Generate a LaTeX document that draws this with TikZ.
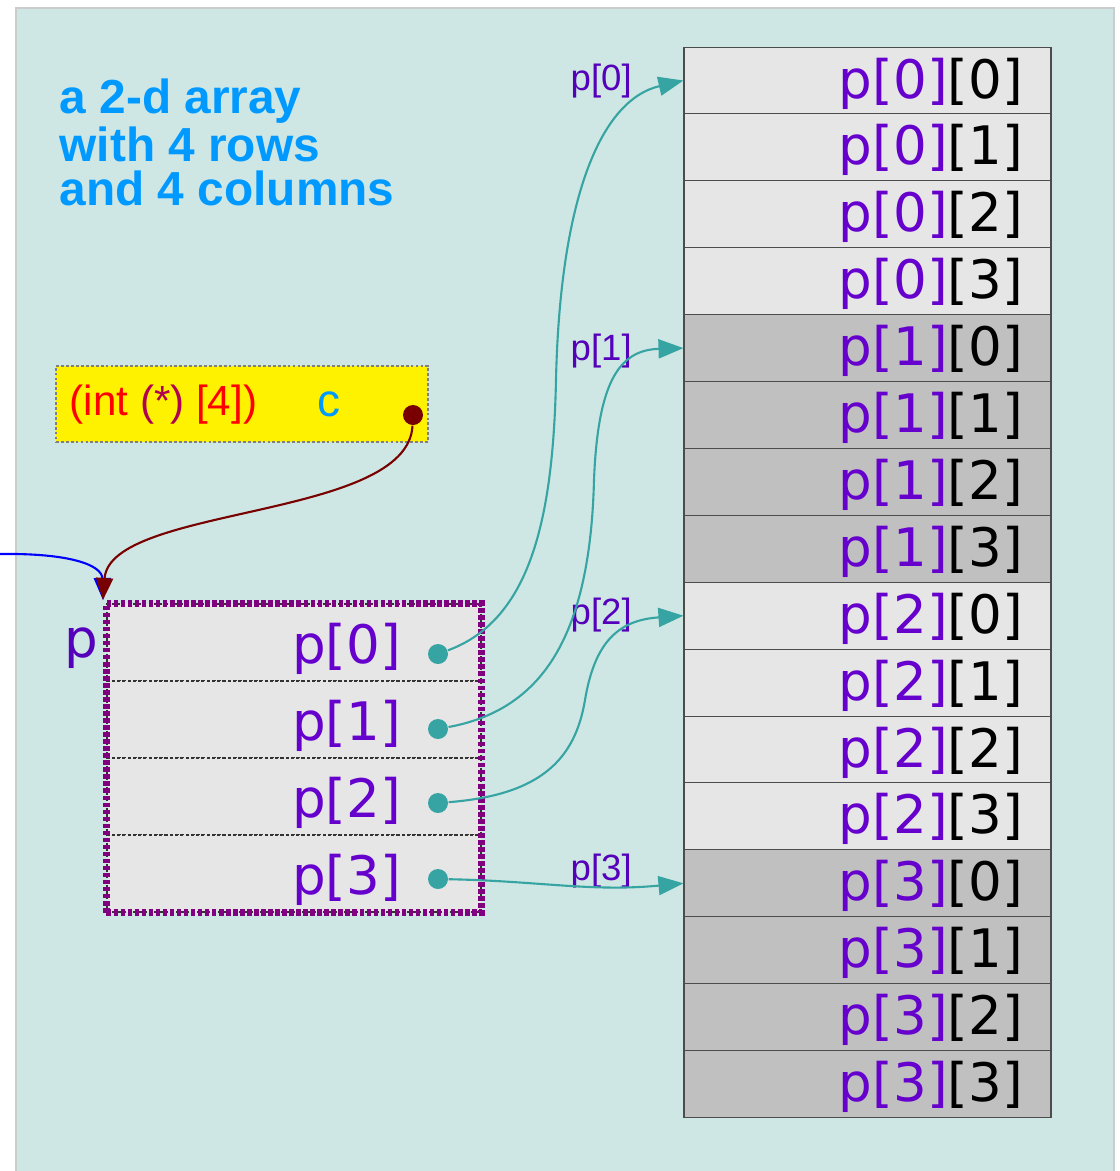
\documentclass[tikz,border=0pt]{standalone}
\usepackage{fontspec}
\setmainfont{DejaVu Sans}
\newfontfamily\labelfont{Liberation Sans}
\usepackage{xcolor}
\usepackage{tikz}
\usetikzlibrary{arrows.meta, positioning, fit}
\definecolor{bgteal}{RGB}{207, 231, 228}
\definecolor{cellgray}{RGB}{230, 230, 230}
\definecolor{rowgray}{RGB}{192, 192, 192}
\definecolor{idxpurple}{RGB}{102, 0, 204}
\definecolor{lblpurple}{RGB}{85, 0, 187}
\definecolor{ptrteal}{RGB}{54, 164, 162}
\definecolor{titleblue}{RGB}{0, 153, 255}
\definecolor{starred}{RGB}{176, 0, 80}
\definecolor{darkmaroon}{RGB}{120, 0, 0}
\definecolor{borderpurple}{RGB}{128, 0, 128}

\newcommand{\elem}[2]{\textcolor{idxpurple}{p[#1]}[#2]}

\begin{document}
\begin{tikzpicture}[
    elem/.style={draw=black!70, line width=0.3pt, minimum width=3.67cm,
                 minimum height=0.669cm, inner xsep=0.28cm, inner ysep=0pt,
                 text width=3.11cm, align=right, text height=0.51cm,
                 text depth=0.159cm, font=\fontsize{15.1}{18}\selectfont},
    lightrow/.style={elem, fill=cellgray},
    darkrow/.style={elem, fill=rowgray},
    ptrcell/.style={draw=black!80, dash pattern=on 0.9pt off 0.6pt,
                    line width=0.3pt, fill=cellgray, minimum width=3.74cm,
                    minimum height=0.77cm, inner xsep=0.80cm, inner ysep=0pt,
                    text width=2.14cm, align=right, text height=0.595cm,
                    text depth=0.175cm, text=idxpurple,
                    font=\fontsize{15.1}{18}\selectfont},
    ptrdot/.style={circle, fill=ptrteal, inner sep=0pt, minimum size=0.2cm},
    ptrlabel/.style={anchor=base west, inner sep=0pt, text=lblpurple,
                     font=\labelfont\fontsize{10.4}{12}\selectfont},
    ptr/.style={-{Triangle[length=0.25cm, width=0.19cm]}, ptrteal, line width=0.6pt},
    inarrow/.style={-{Triangle[length=0.22cm, width=0.17cm]}, line width=0.6pt}
]
    \useasboundingbox (0,0) rectangle (11.19,-11.71);
    \draw[gray!40, fill=bgteal] (0.16,-12) rectangle (11.14,-0.08);

    % Title
    \node[anchor=north west, inner sep=0pt, align=left, text=titleblue,
          font=\labelfont\bfseries\fontsize{13.6}{12.66}\selectfont]
          (title) at (0.59,-0.78) {a 2-d array\\with 4 rows\\and 4 columns};

    % Cast variable c
    \node[fill=yellow, draw=gray, dash pattern=on 0.8pt off 0.6pt, line width=0.3pt,
          minimum width=3.72cm, minimum height=0.76cm] (cbox) at (2.42,-4.04) {};
    \node[anchor=base west, inner sep=0pt, text=red,
          font=\labelfont\fontsize{12}{14}\selectfont]
          (ctype) at (0.69,-4.15) {(int \textcolor{starred}{(*)} [4])};
    \node[anchor=base west, inner sep=0pt, text=titleblue,
          font=\labelfont\fontsize{13.1}{15}\selectfont]
          (cname) at (3.17,-4.16) {c};
    \node[ptrdot, fill=darkmaroon] (cdot) at (4.13,-4.15) {};

    % Pointer array p
    \node[ptrcell] (p0) at (2.94,-6.425) {p[0]};
    \node[ptrcell] (p1) at (2.94,-7.195) {p[1]};
    \node[ptrcell] (p2) at (2.94,-7.965) {p[2]};
    \node[ptrcell] (p3) at (2.94,-8.735) {p[3]};
    \node[fit=(p0)(p3), inner sep=0pt, draw=borderpurple, line width=2pt,
          dash pattern=on 1.3pt off 0.7pt] (pbox) {};
    \node[anchor=base east, inner sep=0pt, text=lblpurple,
          font=\fontsize{15.1}{18}\selectfont] (plbl) at (0.985,-6.57) {p};

    \node[ptrdot] (d0) at (4.38,-6.54) {};
    \node[ptrdot] (d1) at (4.38,-7.29) {};
    \node[ptrdot] (d2) at (4.38,-8.03) {};
    \node[ptrdot] (d3) at (4.38,-8.79) {};

    % Array elements
    \node[lightrow] (a00) at (8.675,-0.805) {\elem{0}{0}};
    \node[lightrow] (a01) at (8.675,-1.474) {\elem{0}{1}};
    \node[lightrow] (a02) at (8.675,-2.143) {\elem{0}{2}};
    \node[lightrow] (a03) at (8.675,-2.812) {\elem{0}{3}};
    \node[darkrow] (a10) at (8.675,-3.481) {\elem{1}{0}};
    \node[darkrow] (a11) at (8.675,-4.150) {\elem{1}{1}};
    \node[darkrow] (a12) at (8.675,-4.819) {\elem{1}{2}};
    \node[darkrow] (a13) at (8.675,-5.488) {\elem{1}{3}};
    \node[lightrow] (a20) at (8.675,-6.157) {\elem{2}{0}};
    \node[lightrow] (a21) at (8.675,-6.826) {\elem{2}{1}};
    \node[lightrow] (a22) at (8.675,-7.495) {\elem{2}{2}};
    \node[lightrow] (a23) at (8.675,-8.164) {\elem{2}{3}};
    \node[darkrow] (a30) at (8.675,-8.833) {\elem{3}{0}};
    \node[darkrow] (a31) at (8.675,-9.502) {\elem{3}{1}};
    \node[darkrow] (a32) at (8.675,-10.171) {\elem{3}{2}};
    \node[darkrow] (a33) at (8.675,-10.840) {\elem{3}{3}};

    % Row pointer labels
    \node[ptrlabel] (l0) at (5.70,-0.90) {p[0]};
    \node[ptrlabel] (l1) at (5.70,-3.60) {p[1]};
    \node[ptrlabel] (l2) at (5.70,-6.24) {p[2]};
    \node[ptrlabel] (l3) at (5.70,-8.80) {p[3]};

    % Row pointers
    \draw[ptr] (d0) .. controls (5.30,-6.20) and (5.53,-5.20) .. (5.56,-3.80)
                    .. controls (5.60,-2.00) and (6.00,-1.00) .. (a00.west);
    \draw[ptr] (d1) .. controls (5.40,-7.10) and (5.90,-6.40) .. (5.94,-4.80)
                    .. controls (5.98,-3.80) and (6.20,-3.50) .. (a10.west);
    \draw[ptr] (d2) .. controls (5.40,-7.95) and (5.75,-7.60) .. (5.85,-7.00)
                    .. controls (5.95,-6.40) and (6.20,-6.20) .. (a20.west);
    \draw[ptr] (d3) .. controls (5.40,-8.81) and (5.90,-8.92) .. (a30.west);

    % Incoming pointers
    \coordinate (src) at (0,-5.54);
    \draw[inarrow, blue] (src) .. controls (0.7,-5.53) and (1.02,-5.65) .. (pbox.north west);
    \draw[inarrow, darkmaroon] (cdot) .. controls (4.08,-5.2) and (1.1,-5.05) .. (pbox.north west);
\end{tikzpicture}
\end{document}
